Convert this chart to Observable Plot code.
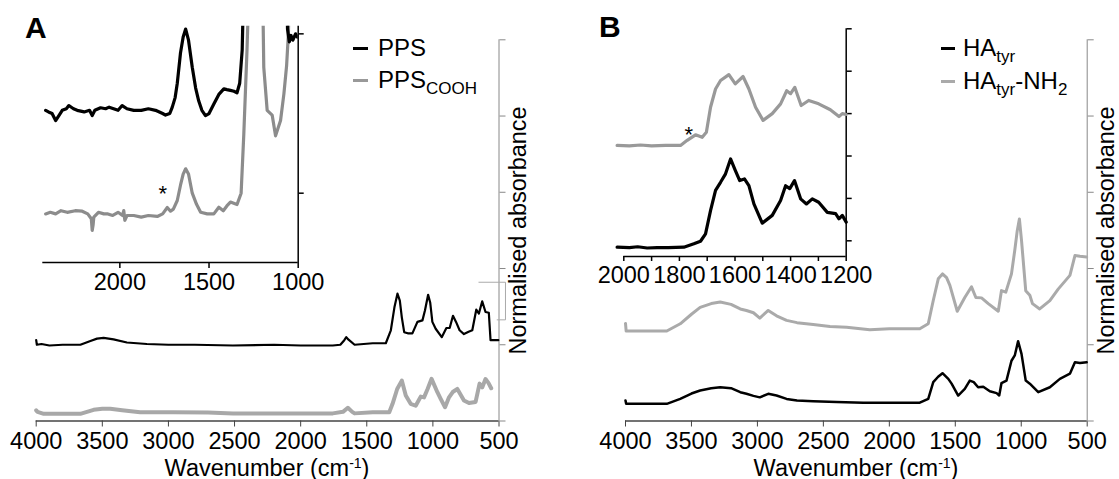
<!DOCTYPE html>
<html>
<head>
<meta charset="utf-8">
<script src="https://cdn.jsdelivr.net/npm/d3@7"></script>
<script src="https://cdn.jsdelivr.net/npm/@observablehq/plot@0.6"></script>
<style>
  body { margin: 0; background: #fff; }
  #fig { position: relative; width: 1119px; height: 479px; overflow: hidden;
         font-family: "Liberation Sans", Arial, Helvetica, sans-serif; color: #000; background: #fff; }
  .lbl { position: absolute; white-space: nowrap; line-height: 1; }
  .sub { font-size: 17px; position: relative; top: 6px; }
  .sup { font-size: 14px; position: relative; top: -8px; }
  .dash { position: absolute; height: 3px; }
</style>
</head>
<body>
<div id="fig"></div>
<script>
// ---------- tick values ----------
const mainXTicks = [4000, 3500, 3000, 2500, 2000, 1500, 1000, 500];
const mainYTicks = [0, 1, 2, 3, 4, 5];
const insetAXTicks = [2000, 1500, 1000];
const insetAYTicks = [0, 1];
const insetBXTicks = [2000, 1900, 1800, 1700, 1600, 1500, 1400, 1300, 1200];
const insetBYTicks = [0, 1, 2, 3, 4, 5];

// ---------- Panel A, main spectra ----------
const ppsMainWn  = [4000, 3995, 3960, 3900, 3800, 3700, 3666, 3590, 3540, 3490, 3415, 3314, 3163, 3000, 2800, 2512, 2200, 2000, 1757, 1700, 1670, 1655, 1640, 1592, 1455, 1356, 1318, 1290, 1268, 1250, 1235, 1217, 1190, 1155, 1117, 1079, 1060, 1036, 1020, 1004, 979, 933, 898, 873, 848, 825, 798, 765, 730, 702, 672, 652, 627, 602, 577, 564, 540, 505];
const ppsMainAbs = [1.06, 1.0, 1.01, 0.99, 1.0, 1.0, 1.0, 1.05, 1.08, 1.09, 1.07, 1.03, 1.01, 1.0, 1.0, 0.99, 1.0, 0.99, 0.99, 1.0, 1.06, 1.1, 1.07, 1.0, 1.02, 1.02, 1.19, 1.5, 1.67, 1.58, 1.36, 1.165, 1.15, 1.15, 1.3, 1.32, 1.45, 1.655, 1.55, 1.3, 1.21, 1.1, 1.22, 1.22, 1.38, 1.3, 1.19, 1.14, 1.17, 1.19, 1.46, 1.41, 1.57, 1.43, 1.42, 1.06, 1.06, 1.06];

const ppsCoohMainWn  = [4000, 3990, 3943, 3800, 3666, 3566, 3500, 3440, 3350, 3214, 2962, 2700, 2512, 2200, 1757, 1680, 1643, 1610, 1592, 1455, 1330, 1305, 1270, 1235, 1205, 1168, 1130, 1092, 1067, 1040, 1010, 966, 941, 908, 878, 850, 815, 765, 727, 677, 647, 627, 602, 580, 559];
const ppsCoohMainAbs = [0.14, 0.12, 0.094, 0.094, 0.094, 0.147, 0.16, 0.16, 0.14, 0.115, 0.115, 0.11, 0.1, 0.1, 0.1, 0.12, 0.173, 0.12, 0.1, 0.115, 0.115, 0.225, 0.42, 0.53, 0.334, 0.225, 0.2, 0.32, 0.31, 0.42, 0.553, 0.378, 0.29, 0.18, 0.31, 0.38, 0.42, 0.27, 0.235, 0.25, 0.49, 0.44, 0.55, 0.5, 0.43];

// scale bracket next to panel A axis
const bracketWn  = [652, 451, 451, 514];
const bracketAbs = [1.82, 1.82, 1.327, 1.327];

// ---------- Panel A, inset ----------
const ppsInsetWn  = [2416, 2400, 2380, 2360, 2340, 2323, 2300, 2286, 2260, 2239, 2200, 2170, 2155, 2140, 2108, 2080, 2060, 2035, 2010, 1987, 1960, 1922, 1880, 1840, 1800, 1760, 1744, 1720, 1706, 1690, 1678, 1660, 1645, 1631, 1615, 1594, 1575, 1558, 1540, 1520, 1500, 1473, 1445, 1417, 1400, 1380, 1360, 1343, 1328, 1314, 1300, 1068, 1060, 1050, 1040, 1030, 1015, 1005];
const ppsInsetAbs = [0.52, 0.51, 0.5, 0.456, 0.49, 0.52, 0.53, 0.55, 0.53, 0.52, 0.51, 0.52, 0.487, 0.52, 0.536, 0.53, 0.54, 0.53, 0.52, 0.55, 0.53, 0.52, 0.52, 0.53, 0.52, 0.5, 0.49, 0.5, 0.54, 0.6, 0.69, 0.88, 0.98, 1.03, 0.96, 0.79, 0.66, 0.58, 0.52, 0.487, 0.5, 0.56, 0.62, 0.655, 0.65, 0.645, 0.64, 0.63, 0.69, 0.9, 1.6, 1.6, 1.03, 0.95, 0.99, 0.96, 1.0, 0.98];

const ppsCoohInsetWn  = [2416, 2390, 2360, 2330, 2295, 2250, 2211, 2180, 2160, 2155, 2150, 2146, 2120, 2090, 2067, 2040, 2010, 1985, 1978, 1972, 1960, 1922, 1880, 1840, 1790, 1760, 1734, 1716, 1700, 1678, 1660, 1645, 1631, 1615, 1594, 1570, 1547, 1510, 1473, 1445, 1420, 1400, 1380, 1343, 1320, 1305, 1287, 1271, 1202, 1193, 1174, 1146, 1127, 1099, 1080, 1065, 1055, 1045];
const ppsCoohInsetAbs = [-0.13, -0.12, -0.13, -0.11, -0.12, -0.11, -0.113, -0.13, -0.16, -0.234, -0.2, -0.15, -0.12, -0.13, -0.13, -0.14, -0.12, -0.14, -0.109, -0.17, -0.14, -0.14, -0.15, -0.14, -0.146, -0.13, -0.09, -0.113, -0.1, -0.046, 0.05, 0.12, 0.153, 0.12, 0, -0.07, -0.12, -0.13, -0.13, -0.088, -0.11, -0.08, -0.056, -0.071, 0, 0.37, 0.9, 1.5, 1.5, 0.79, 0.52, 0.49, 0.36, 0.456, 0.625, 0.8, 1.0, 1.5];

const starA = {wn: 1759, abs: 0.028};

// ---------- Panel B, main spectra ----------
const haMainWn  = [4000, 3995, 3900, 3800, 3687, 3585, 3500, 3434, 3350, 3282, 3200, 3130, 3083, 3030, 2982, 2918, 2855, 2779, 2700, 2577, 2400, 2198, 2000, 1769, 1705, 1667, 1630, 1597, 1553, 1528, 1478, 1428, 1390, 1360, 1327, 1288, 1238, 1187, 1167, 1150, 1112, 1074, 1049, 1024, 998, 966, 935, 871, 783, 707, 631, 593, 555, 504];
const haMainAbs = [0.27, 0.225, 0.225, 0.225, 0.225, 0.29, 0.36, 0.4, 0.43, 0.443, 0.43, 0.378, 0.357, 0.33, 0.31, 0.357, 0.334, 0.29, 0.27, 0.26, 0.25, 0.24, 0.24, 0.24, 0.29, 0.51, 0.58, 0.627, 0.553, 0.49, 0.334, 0.42, 0.53, 0.51, 0.443, 0.45, 0.39, 0.365, 0.334, 0.496, 0.53, 0.79, 0.86, 1.047, 0.88, 0.53, 0.49, 0.378, 0.443, 0.553, 0.62, 0.77, 0.76, 0.77];

const haNh2MainWn  = [4000, 3995, 3900, 3800, 3687, 3585, 3500, 3434, 3350, 3282, 3200, 3130, 3083, 3030, 2982, 2918, 2855, 2779, 2700, 2577, 2450, 2324, 2148, 2000, 1769, 1705, 1667, 1629, 1597, 1566, 1541, 1485, 1428, 1377, 1344, 1301, 1250, 1174, 1150, 1117, 1074, 1049, 1030, 1014, 998, 966, 935, 915, 860, 783, 720, 631, 593, 555, 504];
const haNh2MainAbs = [1.28, 1.18, 1.18, 1.18, 1.18, 1.275, 1.4, 1.49, 1.54, 1.56, 1.53, 1.47, 1.45, 1.42, 1.35, 1.45, 1.38, 1.32, 1.29, 1.265, 1.24, 1.23, 1.196, 1.21, 1.21, 1.275, 1.58, 1.865, 1.93, 1.88, 1.78, 1.44, 1.62, 1.76, 1.62, 1.615, 1.54, 1.44, 1.71, 1.69, 1.93, 2.24, 2.5, 2.65, 2.37, 1.71, 1.65, 1.54, 1.47, 1.58, 1.73, 1.91, 2.17, 2.16, 2.15];

// ---------- Panel B, inset ----------
const haInsetWn  = [2024, 1980, 1950, 1916, 1880, 1840, 1784, 1748, 1724, 1706, 1688, 1670, 1652, 1634, 1616, 1599, 1583, 1566, 1550, 1532, 1502, 1466, 1436, 1418, 1403, 1386, 1364, 1343, 1322, 1299, 1268, 1238, 1226, 1214, 1200];
const haInsetAbs = [-0.15, -0.16, -0.14, -0.17, -0.16, -0.16, -0.15, -0.07, -0.01, 0.165, 0.71, 1.19, 1.38, 1.58, 1.93, 1.66, 1.42, 1.46, 1.30, 0.87, 0.415, 0.6, 0.95, 1.3, 1.23, 1.42, 0.99, 0.87, 0.99, 0.91, 0.67, 0.64, 0.52, 0.6, 0.44];

const haNh2InsetWn  = [2024, 1980, 1940, 1900, 1850, 1796, 1772, 1742, 1718, 1703, 1688, 1670, 1652, 1622, 1599, 1571, 1550, 1526, 1499, 1466, 1436, 1414, 1400, 1385, 1362, 1335, 1299, 1257, 1226, 1214, 1200];
const haNh2InsetAbs = [2.25, 2.24, 2.26, 2.24, 2.25, 2.25, 2.37, 2.5, 2.44, 2.56, 3.15, 3.58, 3.78, 3.92, 3.7, 3.875, 3.58, 3.15, 2.84, 3.0, 3.23, 3.54, 3.47, 3.62, 3.19, 3.31, 3.23, 3.09, 2.93, 3.0, 2.98];

const starB = {wn: 1766, abs: 2.62};

// ---------- helpers ----------
const FONT = '"Liberation Sans", Arial, Helvetica, sans-serif';
const rows = (wn, ab) => wn.map((w, i) => ({w, a: ab[i]}));
const fig = document.getElementById("fig");
function place(node, left, top) {
  node.style.position = "absolute";
  node.style.left = left + "px";
  node.style.top = top + "px";
  fig.appendChild(node);
}
const styleOpts = {background: "transparent", fontFamily: FONT, overflow: "visible"};

function mainPanel({width, marginLeft, marginRight, marks}) {
  return Plot.plot({
    width, height: 479,
    marginLeft, marginRight, marginTop: 39.3, marginBottom: 58.5,
    style: styleOpts,
    x: {domain: [4000, 500]},
    y: {domain: [0, 5]},
    marks: [
      Plot.ruleY([0], {stroke: "#444", strokeWidth: 1.5}),
      Plot.ruleX([500], {stroke: "#888", strokeWidth: 1}),
      Plot.axisX({ticks: mainXTicks, tickFormat: d3.format("d"), tickSize: 6, tickPadding: 5, fontSize: 23.5, stroke: "#444", label: null}),
      Plot.axisY({anchor: "right", ticks: mainYTicks, tickFormat: () => "", tickSize: 6, stroke: "#888", label: null}),
      ...marks,
      Plot.text(["Normalised absorbance"], {frameAnchor: "right", textAnchor: "middle", lineAnchor: "middle", rotate: -90, dx: 19.5, fontSize: 23.5})
    ]
  });
}

// ---------- Panel A main ----------
const mainA = mainPanel({
  width: 560, marginLeft: 35.7, marginRight: 61.5,
  marks: [
    Plot.line(rows(ppsCoohMainWn, ppsCoohMainAbs), {x: "w", y: "a", stroke: "#a8a8a8", strokeWidth: 4, strokeLinejoin: "round", strokeLinecap: "round"}),
    Plot.line(rows(ppsMainWn, ppsMainAbs), {x: "w", y: "a", stroke: "#000", strokeWidth: 2.2, strokeLinejoin: "round"}),
    Plot.line(rows(bracketWn, bracketAbs), {x: "w", y: "a", stroke: "#aaa", strokeWidth: 1})
  ]
});
place(mainA, 0, 0);

// ---------- Panel B main ----------
const mainB = mainPanel({
  width: 559, marginLeft: 65, marginRight: 32.3,
  marks: [
    Plot.line(rows(haNh2MainWn, haNh2MainAbs), {x: "w", y: "a", stroke: "#aaaaaa", strokeWidth: 3, strokeLinejoin: "round"}),
    Plot.line(rows(haMainWn, haMainAbs), {x: "w", y: "a", stroke: "#000", strokeWidth: 2.5, strokeLinejoin: "round"})
  ]
});
place(mainB, 560, 0);

// ---------- Panel A inset ----------
const insetA = Plot.plot({
  width: 340, height: 310,
  marginLeft: 42.3, marginRight: 42.3, marginTop: 25.7, marginBottom: 48,
  style: styleOpts,
  x: {domain: [2432, 1000]},
  y: {domain: [-0.435, 1.048]},
  marks: [
    Plot.ruleY([-0.435], {stroke: "#000", strokeWidth: 1.5}),
    Plot.ruleX([1000], {stroke: "#000", strokeWidth: 1.5}),
    Plot.axisX({ticks: insetAXTicks, tickFormat: d3.format("d"), tickSize: 6, tickPadding: 5.3, fontSize: 23.5, stroke: "#000", strokeWidth: 1.5, label: null}),
    Plot.axisY({anchor: "right", ticks: insetAYTicks, tickFormat: () => "", tickSize: 5, stroke: "#000", strokeWidth: 1.5, label: null}),
    Plot.line(rows(ppsCoohInsetWn, ppsCoohInsetAbs), {x: "w", y: "a", stroke: "#8c8c8c", strokeWidth: 3.2, strokeLinejoin: "round", clip: true}),
    Plot.line(rows(ppsInsetWn, ppsInsetAbs), {x: "w", y: "a", stroke: "#000", strokeWidth: 3.2, strokeLinejoin: "round", clip: true}),
    Plot.text([starA], {x: "wn", y: "abs", text: () => "*", fontSize: 22, dy: 5})
  ]
});
place(insetA, 0, 0);

// ---------- Panel B inset ----------
const insetB = Plot.plot({
  width: 300, height: 310,
  marginLeft: 43.3, marginRight: 34.3, marginTop: 28.3, marginBottom: 54,
  style: styleOpts,
  x: {domain: [2000, 1200]},
  y: {domain: [-0.37, 5]},
  marks: [
    Plot.ruleY([-0.37], {stroke: "#000", strokeWidth: 1.5}),
    Plot.ruleX([1200], {stroke: "#000", strokeWidth: 1.5}),
    Plot.axisX({ticks: insetBXTicks, tickFormat: d => (d % 200 === 0 ? String(d) : ""), tickSize: 5, tickPadding: 4.6, fontSize: 23.5, stroke: "#000", strokeWidth: 1.5, label: null}),
    Plot.axisY({anchor: "right", ticks: insetBYTicks, tickFormat: () => "", tickSize: 5, stroke: "#000", strokeWidth: 1.5, label: null}),
    Plot.line(rows(haNh2InsetWn, haNh2InsetAbs), {x: "w", y: "a", stroke: "#999999", strokeWidth: 3.2, strokeLinejoin: "round"}),
    Plot.line(rows(haInsetWn, haInsetAbs), {x: "w", y: "a", stroke: "#000", strokeWidth: 3.2, strokeLinejoin: "round"}),
    Plot.text([starB], {x: "wn", y: "abs", text: () => "*", fontSize: 22, dy: 5})
  ]
});
place(insetB, 580, 0);

// ---------- text overlays: panel letters, legends, x titles ----------
function label(html, left, top, size, extra = "") {
  const d = document.createElement("div");
  d.className = "lbl";
  d.style.left = left + "px";
  d.style.top = top + "px";
  d.style.fontSize = size + "px";
  d.style.cssText += extra;
  d.innerHTML = html;
  fig.appendChild(d);
  return d;
}
function dash(left, top, width, color) {
  const d = document.createElement("div");
  d.className = "dash";
  d.style.left = left + "px";
  d.style.top = top + "px";
  d.style.width = width + "px";
  d.style.background = color;
  fig.appendChild(d);
}
// panel letters
label("A", 25, 12.9, 30, "font-weight:bold;");
label("B", 599, 12.3, 30, "font-weight:bold;");
// legend A
dash(353, 47, 15, "#000");
dash(353, 78.5, 15, "#999");
label("PPS", 378, 36.2, 24);
label('PPS<span class="sub">COOH</span>', 378, 68, 24);
// legend B
dash(941, 47, 14, "#000");
dash(941, 79.5, 14, "#aaa");
label('HA<span class="sub">tyr</span>', 963, 36.2, 24);
label('HA<span class="sub">tyr</span>-NH<span class="sub">2</span>', 963, 69, 24);
// x axis titles
label('Wavenumber (cm<span class="sup">-1</span>)', 117, 456.5, 23.5, "width:300px;text-align:center;");
label('Wavenumber (cm<span class="sup">-1</span>)', 706, 456.5, 23.5, "width:300px;text-align:center;");
</script>
</body>
</html>
